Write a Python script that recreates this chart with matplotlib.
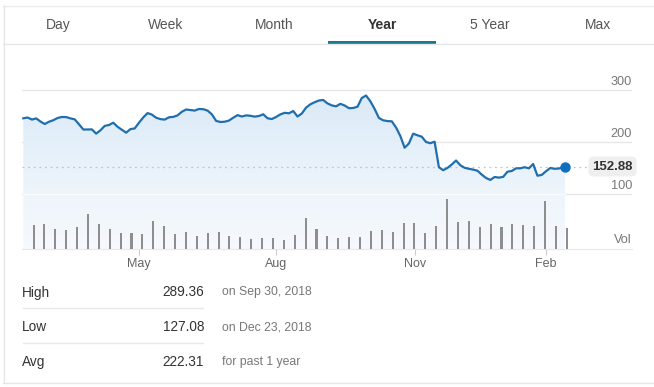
import numpy as np
import pandas as pd
import matplotlib
matplotlib.use("Agg")
import matplotlib.pyplot as plt
from matplotlib.patches import Polygon, Rectangle
from matplotlib.lines import Line2D
from matplotlib.colors import LinearSegmentedColormap

# ---------------- data ----------------
tabs = ["Day", "Week", "Month", "Year", "5 Year", "Max"]
active_tab = "Year"

holidays = ["2018-02-19", "2018-03-30", "2018-05-28", "2018-07-04", "2018-09-03",
            "2018-11-22", "2018-12-05", "2018-12-25", "2019-01-01", "2019-01-21"]
start_date, end_date = "2018-02-12", "2019-02-14"
sample_step = 2  # one price reading every 2nd trading day

prices = [
    245.6, 247.1, 243.1, 245.4, 239.4, 234.6, 239.0, 241.9, 246.2, 248.1,
    247.9, 245.4, 243.5, 234.0, 224.0, 224.0, 224.2, 216.1, 222.5, 231.0,
    232.7, 237.1, 229.2, 223.6, 217.9, 224.8, 226.1, 237.1, 247.3, 255.6,
    252.7, 246.7, 244.0, 243.1, 247.5, 248.3, 251.2, 258.1, 262.5, 261.5,
    260.4, 263.5, 263.1, 260.4, 253.3, 240.6, 238.5, 239.0, 241.2, 246.7,
    251.7, 249.0, 251.2, 250.4, 248.8, 250.0, 253.3, 245.6, 244.2, 248.1,
    253.1, 256.1, 255.2, 259.6, 249.0, 254.8, 266.1, 272.5, 276.5, 279.8,
    280.8, 274.2, 270.4, 268.6, 273.4, 270.2, 265.0, 265.4, 267.9, 284.6,
    289.36, 278.3, 263.5, 246.2, 241.7, 240.2, 239.8, 227.9, 211.5, 189.0,
    197.1, 216.0, 212.9, 210.2, 200.0, 197.7, 200.6, 151.5, 145.8, 150.2,
    156.7, 164.4, 155.4, 150.4, 148.5, 146.9, 144.8, 137.3, 130.8, 127.08,
    132.7, 131.5, 132.9, 142.9, 144.2, 149.4, 149.4, 151.5, 149.4, 157.7,
    135.2, 136.7, 143.8, 150.0, 148.5, 149.0, 151.3,
]
last_price = 152.88

volume = [48, 51, 41, 38, 45, 71, 50, 40, 33, 33,
          31, 57, 47, 31, 35, 26, 33, 34, 27, 25,
          21, 22, 23, 18, 29, 62, 40, 27, 23, 24,
          24, 37, 39, 35, 52, 53, 33, 46, 100, 55,
          56, 45, 51, 45, 51, 49, 47, 97, 46, 43]

month_dates = ["2018-05-01", "2018-08-01", "2018-11-01", "2019-02-01"]
month_labels = ["May", "Aug", "Nov", "Feb"]
price_ticks = [100, 200, 300]

stat_names = ["High", "Low", "Avg"]
stat_values = ["289.36", "127.08", "222.31"]
stat_notes = ["on Sep 30, 2018", "on Dec 23, 2018", "for past 1 year"]

# ---------------- setup ----------------
W, H, DPI = 654, 387, 100
plt.rcParams["font.family"] = ["Liberation Sans", "DejaVu Sans"]

fig = plt.figure(figsize=(W / DPI, H / DPI), dpi=DPI)
fig.patch.set_facecolor("white")


def fx(x):
    return x / W


def fy(y):
    return 1 - y / H


days = pd.bdate_range(start_date, end_date, freq="C", holidays=holidays)
n_days = len(days)
idx = list(range(0, n_days - 1, sample_step)) + [n_days - 1]
x_line = np.array(idx, dtype=float)
y_line = np.array(prices + [last_price])

# axes geometry (pixels)
ax_l, ax_r, ax_t, ax_b = 22, 632, 60, 249
ax = fig.add_axes([fx(ax_l), fy(ax_b), (ax_r - ax_l) / W, (ax_b - ax_t) / H])
tick_idx = [int(np.searchsorted(days, pd.Timestamp(d))) for d in month_dates]
pxd = (546 - 139) / (tick_idx[-1] - tick_idx[0])
px0 = 139 - tick_idx[0] * pxd
xlim = ((ax_l - px0) / pxd, (ax_r - px0) / pxd)
ppx = 100 / 52.0  # price per pixel
ylim = (100 - (ax_b - 194) * ppx, 100 + (194 - ax_t) * ppx)

# gridlines
for t in price_ticks:
    ax.axhline(t, color="#e6e6e6", lw=1, zorder=1)

# gradient fill below the line
y_bot = ylim[0]
verts = [(x_line[0], y_bot)] + list(zip(x_line, y_line)) + [(x_line[-1], y_bot)]
poly = Polygon(verts, closed=True, facecolor="none", edgecolor="none")
ax.add_patch(poly)
cmap = LinearSegmentedColormap.from_list(
    "g", [(0, "#f6f9fd"), (0.36, "#eef5fb"), (1, "#dbeaf7")])
grad = np.linspace(0, 1, 256).reshape(-1, 1)
im = ax.imshow(grad, extent=[x_line[0], x_line[-1], y_bot, y_line.max()],
               origin="lower", cmap=cmap, aspect="auto", zorder=1.5)
im.set_clip_path(poly)
ax.plot([x_line[0], x_line[-1]], [100, 100], color="white", lw=1, alpha=0.8, zorder=2)

# reference dotted line at last price
box_left = (588 - px0) / pxd
ax.plot([xlim[0], box_left], [last_price, last_price], color="#c4c4c4",
        lw=0.9, ls=(0, (1.5, 3)), zorder=2.5)

# price line and dot
ax.plot(x_line, y_line, color="#1f6fae", lw=1.6, zorder=4, solid_joinstyle="round")
ax.plot([x_line[-1]], [last_price], "o", color="#0f6ebf", ms=6.5, zorder=5)

# volume bars
axv = ax.twinx()
axv.set_position(ax.get_position())
nb = len(volume)
vol_x = np.arange(1, nb + 1) * n_days / nb - 0.3
axv.bar(vol_x, volume, width=0.95, color="#8e8e8e", zorder=3)
axv.set_ylim(0, max(volume) * (ax_b - ax_t) / 50.0)
axv.axis("off")

ax.set_xlim(*xlim)
ax.set_ylim(*ylim)
axv.set_xlim(*xlim)

# price labels
xr = xlim[1]
for t in price_ticks:
    ax.annotate(str(t), (xr, t), xytext=(0, 5.5), textcoords="offset points",
                ha="right", va="center", fontsize=9.2, color="#777777", zorder=6)

# last price label
ax.text((612.5 - px0) / pxd, last_price, f"{last_price:.2f}", ha="center", va="center",
        fontsize=9.5, fontweight="bold", color="#333333", zorder=6,
        bbox=dict(boxstyle="round,pad=0.3,rounding_size=0.4", fc="#efefef", ec="none"))

# x axis
ax.set_xticks(tick_idx)
ax.set_xticklabels(month_labels)
ax.tick_params(axis="x", length=4, color="#cccccc", labelcolor="#666666",
               labelsize=9, pad=2.5)
ax.tick_params(axis="y", left=False, labelleft=False)
for s in ["top", "left", "right"]:
    ax.spines[s].set_visible(False)
ax.spines["bottom"].set_color("#e8e8e8")
ax.set_facecolor("none")
ax.set_zorder(1)
axv.set_zorder(2)

fig.text(fx(632), fy(240), "Vol", ha="right", va="center", fontsize=9.2, color="#777777")

# ---------------- tabs ----------------
tab_x = [58, 166, 274, 382, 490, 598]
for name, x in zip(tabs, tab_x):
    active = name == active_tab
    fig.text(fx(x), fy(25), name, ha="center", va="center", fontsize=10,
             fontweight="bold" if active else "normal",
             color="#333333" if active else "#555555")
    if active:
        fig.add_artist(Rectangle((fx(x - 54), fy(44)), 108 / W, 3 / H,
                                 transform=fig.transFigure, color="#1a7b8c", lw=0))

fig.add_artist(Line2D([fx(3), 1], [fy(43.5), fy(43.5)], transform=fig.transFigure,
                      color="#e6e6e6", lw=1))
fig.add_artist(Line2D([fx(3), 1], [fy(5.5), fy(5.5)], transform=fig.transFigure,
                      color="#ececec", lw=1))
fig.add_artist(Line2D([fx(3.5), fx(3.5)], [fy(5.5), fy(383)], transform=fig.transFigure,
                      color="#e6e6e6", lw=1))
fig.add_artist(Line2D([fx(3), 1], [fy(383), fy(383)], transform=fig.transFigure,
                      color="#e6e6e6", lw=1))

# ---------------- stats ----------------
row_y = [292.5, 327.3, 361.7]
for i, (nm, val, note) in enumerate(zip(stat_names, stat_values, stat_notes)):
    y = row_y[i]
    fig.text(fx(22), fy(y), nm, ha="left", va="center", fontsize=9.8, color="#333333")
    fig.text(fx(204), fy(y), val, ha="right", va="center", fontsize=9.8, color="#333333")
    fig.text(fx(222), fy(y), note, ha="left", va="center", fontsize=8.8, color="#777777")
    if i < len(stat_names) - 1:
        ys = (row_y[i] + row_y[i + 1]) / 2 - 2
        fig.add_artist(Line2D([fx(23), fx(203)], [fy(ys), fy(ys)],
                              transform=fig.transFigure, color="#e8e8e8", lw=1))

fig.savefig("out.png", dpi=DPI, facecolor="white")
